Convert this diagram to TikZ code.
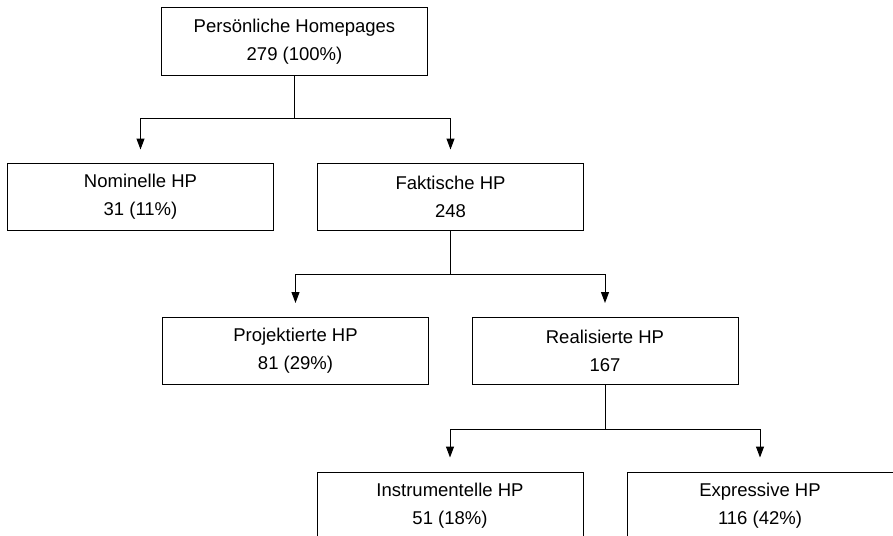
\documentclass[tikz,border=0pt]{standalone}
\usepackage{fontspec}
\setmainfont{Liberation Sans}
\usetikzlibrary{arrows.meta}
\begin{document}
\begin{tikzpicture}[x=1pt,y=1pt,
  hpbox/.style={draw, line width=1pt, minimum width=266pt, minimum height=67pt, align=center, inner sep=0pt,
    font=\fontsize{18.5}{28}\selectfont},
  conn/.style={line width=1pt},
  arr/.style={line width=1pt, -{Triangle[length=11pt,width=8pt]}}]
\useasboundingbox (0,0) rectangle (893,-535);
\clip (0,0) rectangle (893,-535);
\node[hpbox] (A) at (294.5,-41.5) {Persönliche Homepages\\279 (100\%)};
\node[hpbox] (B) at (140.5,-196.5) {Nominelle HP\\31 (11\%)};
\node[hpbox] (C) at (450.5,-196.5) {Faktische HP\\248};
\node[hpbox] (D) at (295.5,-351) {Projektierte HP\\81 (29\%)};
\node[hpbox] (E) at (605,-351) {Realisierte HP\\167};
\node[hpbox] (F) at (450,-505.5) {Instrumentelle HP\\51 (18\%)};
\node[hpbox] (G) at (760,-505.5) {Expressive HP\\116 (42\%)};
\coordinate (j1) at (A.south |- 0,-118);
\coordinate (j2) at (C.south |- 0,-274);
\coordinate (j3) at (E.south |- 0,-429);
\draw[conn] (A.south) -- (j1);
\draw[arr] (j1) -| ([yshift=13pt]B.north);
\draw[arr] (j1) -| ([yshift=13pt]C.north);
\draw[conn] (C.south) -- (j2);
\draw[arr] (j2) -| ([yshift=14pt]D.north);
\draw[arr] (j2) -| ([yshift=14pt]E.north);
\draw[conn] (E.south) -- (j3);
\draw[arr] (j3) -| ([yshift=14pt]F.north);
\draw[arr] (j3) -| ([yshift=14pt]G.north);
\end{tikzpicture}
\end{document}
